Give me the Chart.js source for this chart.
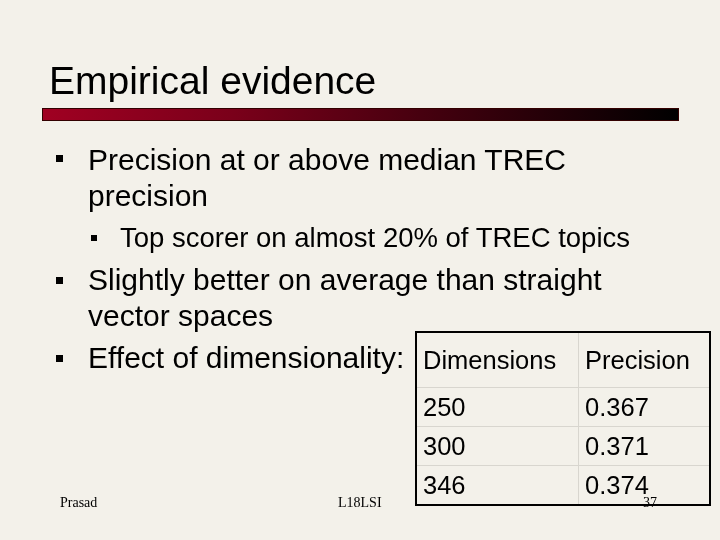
<!DOCTYPE html>
<html><head><meta charset="utf-8">
<script src="https://cdn.jsdelivr.net/npm/chart.js@4"></script>
<style>
body{margin:0;width:720px;height:540px;background:#f3f1ea;font-family:"Liberation Sans",Arial,sans-serif;position:relative;overflow:hidden}
#c{position:absolute;left:0;top:0}
.t{position:absolute;white-space:nowrap;color:#000}
.b{position:absolute;width:7px;height:7px;background:#000}
table{position:absolute;left:415px;top:331px;border-collapse:collapse;border:2px solid #000;font-size:25.5px}
td{padding:0 0 0 6px;height:38px;line-height:38px;border-top:1px solid #d8d6cf}
tr:first-child td{border-top:none;height:40px;line-height:54px}
td:first-child{width:155px;border-right:1px solid #d8d6cf}
td:last-child{width:124px}
</style></head><body>
<canvas id="c" width="720" height="540"></canvas>
<div class="t" style="left:49px;top:58px;font-size:39px;line-height:46px">Empirical evidence</div>
<div class="b" style="left:56px;top:155px"></div>
<div class="t" style="left:88px;top:142px;font-size:30px;line-height:36px">Precision at or above median TREC<br>precision</div>
<div class="b" style="left:91px;top:235px;width:6px;height:6px"></div>
<div class="t" style="left:120px;top:222px;font-size:27.5px;line-height:32px">Top scorer on almost 20% of TREC topics</div>
<div class="b" style="left:56px;top:277px"></div>
<div class="t" style="left:88px;top:262px;font-size:30px;line-height:36px">Slightly better on average than straight<br>vector spaces</div>
<div class="b" style="left:56px;top:355px"></div>
<div class="t" style="left:88px;top:340px;font-size:30px;line-height:36px">Effect of dimensionality:</div>
<table id="tb"></table>
<div class="t" style="left:60px;top:495px;font-family:'Liberation Serif',serif;font-size:14px">Prasad</div>
<div class="t" style="left:338px;top:495px;font-family:'Liberation Serif',serif;font-size:14px">L18LSI</div>
<div class="t" style="left:643px;top:495px;font-family:'Liberation Serif',serif;font-size:14px">37</div>
<script>
const headers=["Dimensions","Precision"];
const dimensions=["250","300","346"];
const precision=[0.367,0.371,0.374];
const tb=document.getElementById('tb');
let h='<tr><td>'+headers[0]+'</td><td>'+headers[1]+'</td></tr>';
dimensions.forEach((d,i)=>{h+='<tr><td>'+d+'</td><td>'+precision[i].toFixed(3)+'</td></tr>';});
tb.innerHTML=h;
const barPlugin={id:'bar',afterDraw(ch){const c=ch.ctx;const g=c.createLinearGradient(42,0,679,0);g.addColorStop(0,'#a00022');g.addColorStop(0.3,'#7a001a');g.addColorStop(1,'#000');c.fillStyle=g;c.fillRect(42,108,637,13);c.strokeStyle='#300';c.lineWidth=1;c.strokeRect(42.5,108.5,636,12);}};
new Chart(document.getElementById('c'),{type:'bar',data:{labels:dimensions,datasets:[{data:[],hidden:true}]},
options:{responsive:false,animation:false,plugins:{legend:{display:false},tooltip:{enabled:false}},scales:{x:{display:false},y:{display:false}}},plugins:[barPlugin]});
</script>
</body></html>
